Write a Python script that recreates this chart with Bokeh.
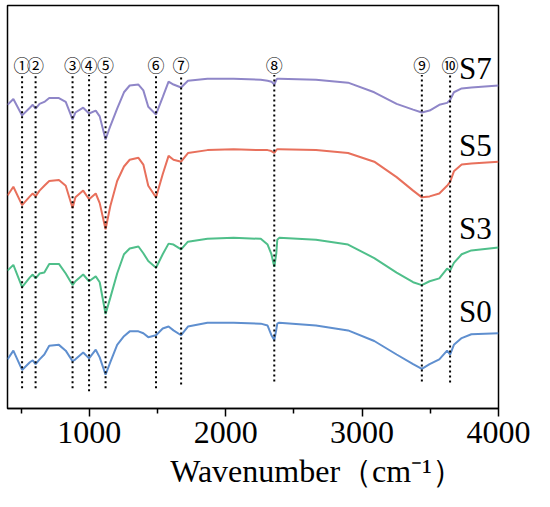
from bokeh.plotting import figure
from bokeh.models import Range1d, FixedTicker
from bokeh.core.properties import value
from bokeh.embed import file_html
from bokeh.resources import INLINE

# wavenumber grid (cm-1)
wn = [400, 443, 507, 564, 585, 606, 635, 670, 706, 777,
      827, 877, 898, 955, 998, 1047, 1076, 1119, 1154, 1204,
      1254, 1296, 1360, 1396, 1432, 1489, 1538, 1581, 1617, 1673,
      1723, 1866, 2058, 2257, 2307, 2335, 2356, 2371, 2378, 2392,
      2662, 2897, 3089, 3253, 3374, 3438, 3495, 3566, 3623, 3645,
      3673, 3730, 3801, 4000]

# transmittance (arbitrary units, offset stacked)
s7 = [315, 321, 304, 312, 315, 311, 316, 318, 322, 322,
      318, 300, 307, 312, 306, 309, 303, 279, 293, 311,
      328, 335, 336, 330, 313, 305, 323, 339, 336, 333,
      340, 342, 342, 341, 340, 339, 336, 341, 342, 342,
      341, 338, 328, 316, 310, 307, 309, 315, 317, 320,
      328, 332, 333, 335]
s5 = [221, 230, 211, 220, 223, 220, 226, 231, 236, 237,
      231, 208, 219, 226, 217, 223, 213, 186, 210, 236,
      251, 258, 260, 253, 231, 219, 243, 262, 258, 256,
      265, 268, 269, 268, 268, 267, 265, 268, 269, 269,
      268, 265, 256, 240, 226, 219, 220, 223, 231, 235,
      246, 253, 254, 256]
s3 = [143, 149, 126, 136, 139, 135, 140, 141, 150, 150,
      140, 128, 132, 139, 132, 137, 131, 98, 115, 140,
      160, 166, 168, 161, 153, 146, 160, 171, 170, 165,
      173, 176, 177, 176, 170, 160, 147, 161, 175, 177,
      175, 170, 156, 141, 131, 128, 132, 135, 145, 143,
      151, 160, 164, 167]
s0 = [51, 60, 40, 48, 50, 46, 51, 56, 65, 66,
      60, 49, 51, 58, 52, 61, 53, 35, 48, 66,
      75, 80, 80, 78, 74, 76, 83, 85, 81, 76,
      85, 89, 89, 88, 86, 76, 71, 82, 88, 89,
      86, 81, 70, 56, 46, 41, 46, 51, 60, 56,
      66, 73, 77, 78]

series_names = ["S7", "S5", "S3", "S0"]
series_colors = ["#8f86c8", "#e8705c", "#4fbf8a", "#5f8fcf"]
series_label_y = [353, 273, 187, 101]
series_label_x = [3950, 3950, 3950, 3950]

peak_labels = ["①", "②", "③", "④", "⑤", "⑥", "⑦", "⑧", "⑨", "⑩"]
peak_wn = [507, 606, 877, 998, 1119, 1489, 1673, 2356, 3438, 3645]
peak_line_bottom = [21, 21, 21, 18, 21, 21, 25, 28, 28, 27]
peak_line_top = [346] * 10
peak_label_y = [357] * 10

x_ticks = [1000, 2000, 3000, 4000]
x_minor = [500, 1500, 2500, 3500]
x_title = "Wavenumber（cm⁻¹）"

p = figure(width=534, height=491, x_range=Range1d(400, 4000), y_range=Range1d(0, 418),
           output_backend="svg", toolbar_location=None, y_axis_location=None,
           min_border_left=7, min_border_top=5, min_border_right=36, min_border_bottom=82)
p.grid.visible = False
p.outline_line_color = "black"
p.outline_line_width = 1.5
p.outline_line_alpha = 1.0
p.background_fill_color = "white"
p.border_fill_color = "white"

xa = p.xaxis[0]
xa.ticker = FixedTicker(ticks=x_ticks, minor_ticks=x_minor)
xa.major_tick_in = 0
xa.major_tick_out = 8
xa.minor_tick_in = 0
xa.minor_tick_out = 5
xa.axis_line_color = "black"
xa.axis_line_width = 1.5
xa.major_tick_line_color = "black"
xa.major_tick_line_width = 1.5
xa.minor_tick_line_color = "black"
xa.minor_tick_line_width = 1.5
xa.major_label_text_font = "Liberation Serif"
xa.major_label_text_font_size = "32px"
xa.major_label_text_color = "black"
xa.major_label_standoff = 5
# leading no-break spaces shift the centred title to the right, as in the reference
xa.axis_label = "\u00a0" * 16 + x_title
xa.axis_label_text_font = "Liberation Serif"
xa.axis_label_text_font_size = "32px"
xa.axis_label_text_font_style = "normal"
xa.axis_label_text_color = "black"
xa.axis_label_text_line_height = 1.0
xa.axis_label_standoff = 7

for vals, col in zip([s7, s5, s3, s0], series_colors):
    p.line(wn, vals, line_color=col, line_width=2)

p.segment(x0=peak_wn, y0=peak_line_bottom, x1=peak_wn, y1=peak_line_top,
          line_color="black", line_width=2, line_dash="2 3")
p.text(x=peak_wn, y=peak_label_y, text=peak_labels,
       text_font=value("Noto Sans CJK SC"), text_font_size="17px",
       text_align="center", text_baseline="middle", text_color="black")
p.text(x=series_label_x, y=series_label_y, text=series_names,
       text_font=value("Liberation Serif"), text_font_size="31px",
       text_align="right", text_baseline="alphabetic", text_color="black")

open("out.html", "w").write(file_html(p, INLINE))
